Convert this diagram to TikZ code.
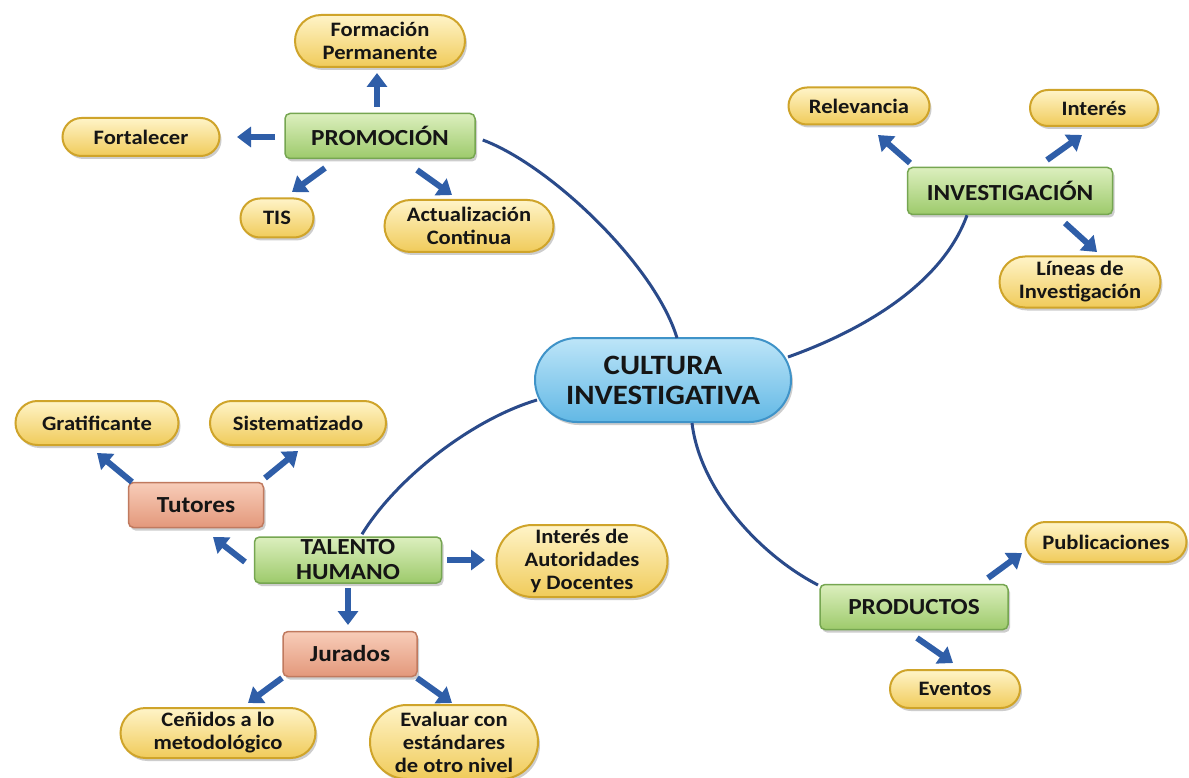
\documentclass[tikz,border=0pt]{standalone}
\usepackage{fontspec}
\setmainfont{Carlito}[FakeStretch=1.1]
\usetikzlibrary{shapes.misc,shadings,shadows,arrows.meta,calc}
\definecolor{txt}{HTML}{151515}
\definecolor{ylTop}{HTML}{FFF4C8}
\definecolor{ylBot}{HTML}{F0CB5A}
\definecolor{ylEdge}{HTML}{CFA42A}
\definecolor{grTop}{HTML}{DCEFBE}
\definecolor{grBot}{HTML}{9DCA6B}
\definecolor{grEdge}{HTML}{76A651}
\definecolor{saTop}{HTML}{F8CDB9}
\definecolor{saBot}{HTML}{E3987B}
\definecolor{saEdge}{HTML}{C07A5F}
\definecolor{blTop}{HTML}{BDE5F8}
\definecolor{blBot}{HTML}{62B8E5}
\definecolor{blEdge}{HTML}{3F93C8}
\definecolor{link}{HTML}{2A4A8A}
\definecolor{arr}{HTML}{2F5EA8}
\tikzset{
  base/.style={text=txt, font=\bfseries\fontsize{20.5}{23}\selectfont, align=center, inner sep=2pt,
    drop shadow={shadow xshift=2pt, shadow yshift=-3pt, opacity=0.28, fill=black!70}},
  yel/.style={base, rounded rectangle, top color=ylTop, bottom color=ylBot, draw=ylEdge, line width=2pt},
  grn/.style={base, rectangle, rounded corners=5pt, top color=grTop, bottom color=grBot, draw=grEdge, line width=1.5pt,
    font=\bfseries\fontsize{23}{25}\selectfont},
  sal/.style={base, rectangle, rounded corners=5pt, top color=saTop, bottom color=saBot, draw=saEdge, line width=1.5pt,
    font=\bfseries\fontsize{23}{25}\selectfont},
  ctr/.style={base, rounded rectangle, top color=blTop, bottom color=blBot, draw=blEdge, line width=2pt,
    font=\bfseries\fontsize{28}{30}\selectfont},
  lnk/.style={draw=link, line width=3pt},
  blk/.style={draw=arr, line width=6pt, -{Triangle[width=20pt,length=14pt]}},
}
\begin{document}
\begin{tikzpicture}[x=1pt,y=-1pt]
\useasboundingbox[fill=white] (0,0) rectangle (1189,778);
% center
\node[ctr, minimum width=260pt, minimum height=84pt] (CUL) at (663,380) {CULTURA\\INVESTIGATIVA};
% PROMOCION group
\node[grn, minimum width=190pt, minimum height=45pt] (PROM) at (380,136) {PROMOCIÓN};
\node[yel, minimum width=174pt, minimum height=52pt] (FORM) at (380,41) {Formación\\Permanente};
\node[yel, minimum width=161pt, minimum height=38pt] (FORT) at (141,137) {Fortalecer};
\node[yel, minimum width=77pt, minimum height=39pt] (TIS) at (277,218) {TIS};
\node[yel, minimum width=173pt, minimum height=52pt] (ACT) at (469,226) {Actualización\\Continua};
% INVESTIGACION group
\node[grn, minimum width=205pt, minimum height=47pt] (INV) at (1010,191) {INVESTIGACIÓN};
\node[yel, minimum width=145pt, minimum height=37pt] (REL) at (859,106) {Relevancia};
\node[yel, minimum width=132pt, minimum height=36pt] (INT) at (1094,108) {Interés};
\node[yel, minimum width=165pt, minimum height=51pt] (LIN) at (1080,282) {Líneas de\\Investigación};
% TALENTO group
\node[grn, minimum width=187pt, minimum height=46pt] (TAL) at (348,560) {TALENTO\\HUMANO};
\node[sal, minimum width=135pt, minimum height=45pt] (TUT) at (196,505) {Tutores};
\node[yel, minimum width=167pt, minimum height=44pt] (GRA) at (97,423) {Gratificante};
\node[yel, minimum width=180pt, minimum height=44pt] (SIS) at (298,423) {Sistematizado};
\node[yel, minimum width=175pt, minimum height=72pt] (IAD) at (582,561) {Interés de\\Autoridades\\y Docentes};
\node[sal, minimum width=134pt, minimum height=45pt] (JUR) at (350,654) {Jurados};
\node[yel, minimum width=199pt, minimum height=50pt] (CEN) at (218,733) {Ceñidos a lo\\metodológico};
\node[yel, minimum width=172pt, minimum height=74pt] (EVA) at (454,742) {Evaluar con\\estándares\\de otro nivel};
% PRODUCTOS group
\node[grn, minimum width=188pt, minimum height=45pt] (PROD) at (914,607) {PRODUCTOS};
\node[yel, minimum width=165pt, minimum height=40pt] (PUB) at (1106,542) {Publicaciones};
\node[yel, minimum width=134pt, minimum height=38pt] (EVE) at (955,689) {Eventos};
% links to center
\draw[lnk] ($(PROM.east)+(7,4)$) .. controls (550,165) and (655,265) .. ($(CUL.north)+(14,1)$);
\draw[lnk] ($(INV.south)+(-43,0)$) .. controls (940,290) and (850,335) .. ($(CUL)+(125,-23)$);
\draw[lnk] ($(TAL.north)+(14,-2)$) .. controls (395,480) and (470,420) .. ($(CUL)+(-126,20)$);
\draw[lnk] ($(CUL)+(29,43)$) .. controls (700,490) and (760,555) .. ($(PROD)+(-96,-22)$);
% block arrows
\draw[blk] ($(PROM)+(-3,-29)$) -- ($(FORM)+(-3,32)$);
\draw[blk] ($(PROM)+(-105,1)$) -- ($(FORT)+(96,0)$);
\draw[blk] ($(PROM)+(-55,32)$) -- ($(TIS)+(15,-26)$);
\draw[blk] ($(PROM)+(37,34)$) -- ($(ACT)+(-17,-31)$);
\draw[blk] ($(INV)+(-100,-28)$) -- ($(REL)+(19,29)$);
\draw[blk] ($(INV)+(37,-31)$) -- ($(INT)+(-12,27)$);
\draw[blk] ($(INV)+(55,32)$) -- ($(LIN)+(17,-30)$);
\draw[blk] ($(TUT)+(-64,-23)$) -- ($(GRA)+(0,30)$);
\draw[blk] ($(TUT)+(69,-27)$) -- ($(SIS)+(0,28)$);
\draw[blk] ($(TAL)+(-103,2)$) -- ($(TUT)+(17,32)$);
\draw[blk] ($(TAL)+(99,0)$) -- ($(IAD)+(-97,-1)$);
\draw[blk] ($(TAL)+(0,28)$) -- ($(JUR)+(-2,-29)$);
\draw[blk] ($(JUR)+(-68,24)$) -- ($(CEN)+(30,-30)$);
\draw[blk] ($(JUR)+(67,24)$) -- ($(EVA)+(-2,-39)$);
\draw[blk] ($(PROD)+(74,-29)$) -- ($(PUB)+(-84,11)$);
\draw[blk] ($(PROD)+(3,31)$) -- ($(EVE)+(-2,-26)$);
\end{tikzpicture}
\end{document}
